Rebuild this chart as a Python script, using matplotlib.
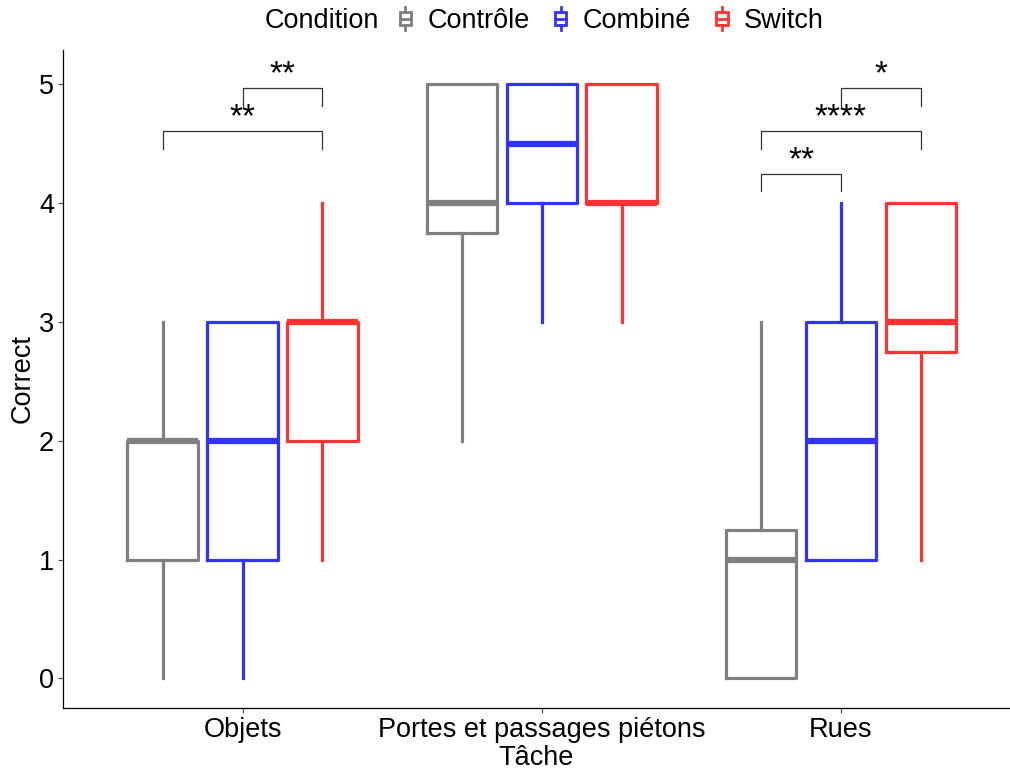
import matplotlib
matplotlib.use("Agg")
import matplotlib.pyplot as plt
from matplotlib.legend_handler import HandlerBase
from matplotlib.lines import Line2D
from matplotlib.patches import Rectangle

plt.rcParams['font.family'] = ['Liberation Sans', 'DejaVu Sans']

tasks = ["Objets", "Portes et passages piétons", "Rues"]
conditions = ["Contrôle", "Combiné", "Switch"]
colors = {"Contrôle": "#7F7F7F", "Combiné": "#3333FF", "Switch": "#FF3333"}

# (whislo, q1, med, q3, whishi) per task, per condition
stats_vals = {
    "Objets": {
        "Contrôle": (0, 1, 2, 2, 3),
        "Combiné": (0, 1, 2, 3, 3),
        "Switch": (1, 2, 3, 3, 4),
    },
    "Portes et passages piétons": {
        "Contrôle": (2, 3.75, 4, 5, 5),
        "Combiné": (3, 4, 4.5, 5, 5),
        "Switch": (3, 4, 4, 5, 5),
    },
    "Rues": {
        "Contrôle": (0, 0, 1, 1.25, 3),
        "Combiné": (1, 1, 2, 3, 4),
        "Switch": (1, 2.75, 3, 4, 4),
    },
}

# significance brackets: (task, cond_a, cond_b, y, label)
brackets = [
    ("Objets", "Contrôle", "Switch", 4.61, "**"),
    ("Objets", "Combiné", "Switch", 4.97, "**"),
    ("Rues", "Contrôle", "Combiné", 4.25, "**"),
    ("Rues", "Contrôle", "Switch", 4.61, "****"),
    ("Rues", "Combiné", "Switch", 4.97, "*"),
]

FS = 19.5

fig = plt.figure(figsize=(10.10, 7.71), dpi=100)
ax = fig.add_axes([63/1010, 1 - 708/771, 1 - 63/1010, (708 - 50)/771])

dodge = 0.267
width = 0.235
offsets = {c: (i - 1) * dodge for i, c in enumerate(conditions)}

for ti, t in enumerate(tasks):
    for c in conditions:
        lo, q1, med, q3, hi = stats_vals[t][c]
        st = [dict(whislo=lo, q1=q1, med=med, q3=q3, whishi=hi, fliers=[])]
        col = colors[c]
        ax.bxp(st, positions=[ti + 1 + offsets[c]], widths=width,
               showcaps=False, patch_artist=False,
               boxprops=dict(color=col, linewidth=2.3),
               whiskerprops=dict(color=col, linewidth=2.3),
               medianprops=dict(color=col, linewidth=4.5, solid_capstyle='butt'),
               manage_ticks=False)

for t, a, b, y, lab in brackets:
    ti = tasks.index(t) + 1
    x1 = ti + offsets[a]
    x2 = ti + offsets[b]
    d = 0.15
    ax.plot([x1, x1, x2, x2], [y - d, y, y, y - d], color="#333333", linewidth=0.9)
    ax.text((x1 + x2) / 2, y - 0.02, lab, ha="center", va="bottom", fontsize=24,
            color="black")

ax.set_xlim(0.4, 3.565)
ax.set_ylim(-0.25, 5.29)
ax.set_xticks([1, 2, 3])
ax.set_xticklabels(tasks, fontsize=FS)
ax.set_yticks([0, 1, 2, 3, 4, 5])
ax.set_yticklabels(["0", "1", "2", "3", "4", "5"], fontsize=FS)
ax.tick_params(axis='both', length=3.5, width=0.9, color="#555555", pad=3)
for s in ["top", "right"]:
    ax.spines[s].set_visible(False)
for s in ["left", "bottom"]:
    ax.spines[s].set_linewidth(0.9)
ax.set_xlabel("Tâche", fontsize=FS, labelpad=1.5)
ax.set_ylabel("Correct", fontsize=FS, labelpad=2)


class BoxHandler(HandlerBase):
    def create_artists(self, legend, orig_handle, xdescent, ydescent, width, height, fontsize, trans):
        col = orig_handle.get_color()
        cx = width / 2 - xdescent
        bw = width * 0.6
        h = height
        rect = Rectangle((cx - bw / 2, -ydescent + h * 0.15), bw, h * 0.7, fill=False,
                         edgecolor=col, linewidth=2.0, transform=trans)
        med = Line2D([cx - bw / 2, cx + bw / 2], [-ydescent + h * 0.5] * 2, color=col,
                     linewidth=2.0, transform=trans)
        w1 = Line2D([cx, cx], [-ydescent - h * 0.1, -ydescent + h * 0.15], color=col,
                    linewidth=2.0, transform=trans)
        w2 = Line2D([cx, cx], [-ydescent + h * 0.85, -ydescent + h * 1.1], color=col,
                    linewidth=2.0, transform=trans)
        return [rect, med, w1, w2]


handles = [Line2D([], [], color=colors[c]) for c in conditions]
fig.text(265/1010, 1 - 21/771, "Condition", fontsize=FS, ha="left", va="center")
fig.legend(handles, conditions, handler_map={Line2D: BoxHandler()},
           loc="center left", bbox_to_anchor=(396/1010, 1 - 21/771), ncol=3,
           frameon=False, fontsize=FS, handlelength=0.7, handletextpad=0.45,
           columnspacing=0.8, borderpad=0, borderaxespad=0)

fig.savefig("out.png", dpi=100)
